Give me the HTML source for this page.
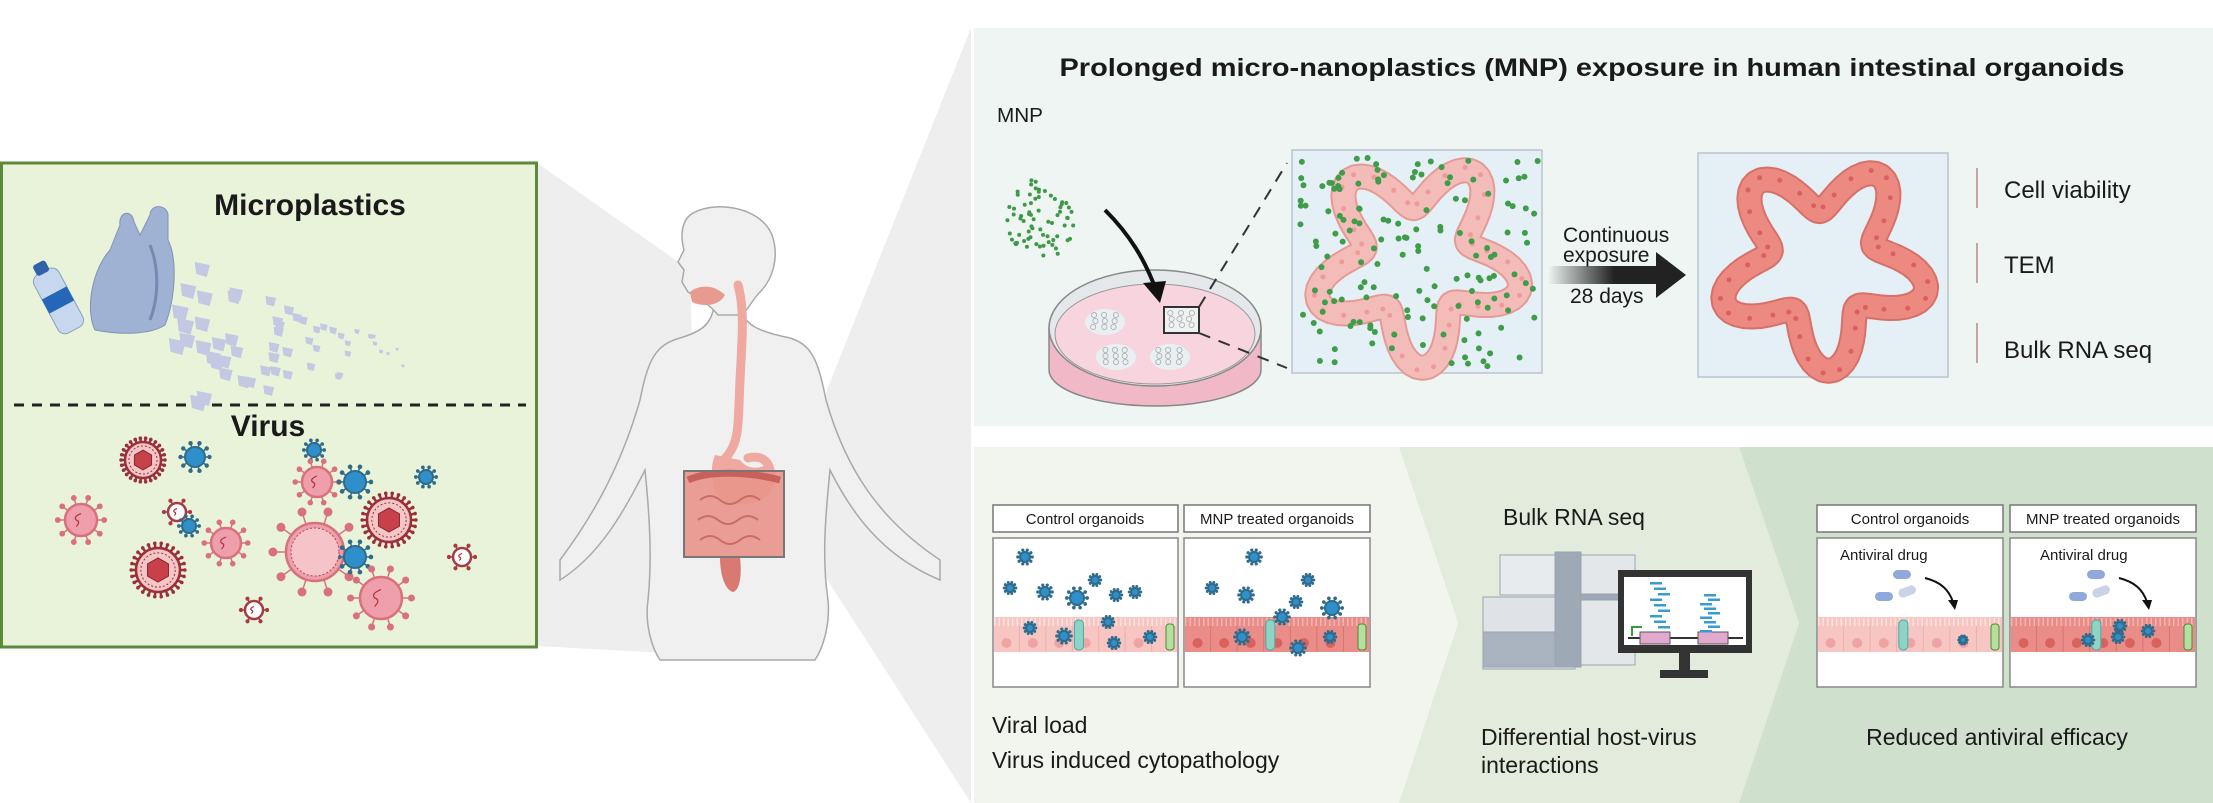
<!DOCTYPE html>
<html><head><meta charset="utf-8">
<style>
html,body{margin:0;padding:0;background:#fff;width:2213px;height:803px;overflow:hidden}
svg{display:block}
text{font-family:"Liberation Sans",sans-serif;fill:#1a1a1a}
</style></head>
<body>
<svg id="s" width="2213" height="803" viewBox="0 0 2213 803" xmlns="http://www.w3.org/2000/svg">
<defs>
<linearGradient id="ag" x1="0" x2="1" y1="0" y2="0">
<stop offset="0" stop-color="#222" stop-opacity="0"/><stop offset="0.6" stop-color="#222"/><stop offset="1" stop-color="#222"/>
</linearGradient>
</defs>
<polygon points="537,163 690,270 700,655 537,646" fill="#eeeeee"/>
<polygon points="971,28 827,390 805,545 971,803" fill="#eeeeee"/>
<rect x="974" y="28" width="1239" height="398" fill="#eef5f2"/>
<polygon points="974,447 1399,447 1458,623 1399,803 974,803" fill="#f1f5ee"/>
<polygon points="1399,447 1739,447 1799,623 1739,803 1399,803 1458,623" fill="#e3ecdc"/>
<polygon points="1739,447 2213,447 2213,803 1739,803 1799,623" fill="#cfe0cd"/>
<g id="dyn"></g>
<rect x="1.5" y="163" width="535" height="484" fill="#e9f3d9" stroke="#5b8a3b" stroke-width="3"/>
<line x1="14" y1="405" x2="526" y2="405" stroke="#222" stroke-width="3" stroke-dasharray="10,8"/>
<text x="310" y="215" font-size="30" font-weight="bold" text-anchor="middle">Microplastics</text>
<text x="268" y="436" font-size="30" font-weight="bold" text-anchor="middle">Virus</text>
<g id="left"></g>
<g id="body" fill="#f0f0f0" stroke="#a9a9a9" stroke-width="1.5">
<path d="M560,560 C590,520 620,470 640,400 C648,360 655,345 680,338 C700,332 712,325 714,305 L740,305 C742,325 760,332 790,338 C812,345 818,360 826,400 C846,470 880,520 940,560 L940,580 C880,555 850,510 830,470 C825,520 822,560 828,600 C830,620 825,645 815,660 L660,660 C650,645 645,620 648,600 C652,560 650,520 645,470 C625,510 600,555 560,580 Z"/>
<path d="M690,215 C710,200 760,205 772,235 C780,258 772,280 760,292 C752,300 748,310 742,315 L718,315 C710,305 700,298 688,292 L682,282 L684,270 L678,262 L684,250 C680,235 682,222 690,215 Z"/>
</g>
<g id="gi">
<path d="M738,285 C745,310 742,340 740,380 C738,420 740,440 728,455 C715,470 712,490 730,498 C755,505 775,490 770,470 C768,460 760,455 748,458" fill="none" stroke="#f0a9a0" stroke-width="9" stroke-linecap="round"/>
<path d="M715,455 C705,480 720,500 745,500 C770,498 780,480 770,462 C760,470 748,470 740,460 Z" fill="#f0a9a0"/>
<path d="M690,292 C700,284 715,285 725,295 C720,305 705,308 692,302 Z" fill="#e89a90"/>
<rect x="684" y="471" width="100" height="86" fill="#e8938a" opacity="0.9"/>
<path d="M688,480 C710,470 750,472 780,480" stroke="#c8615c" stroke-width="7" fill="none"/>
<path d="M700,500 q10,-8 20,0 t20,0 t20,0 M698,520 q10,-8 20,0 t20,0 t20,0 M700,540 q10,-8 20,0 t20,0 t20,0" stroke="#c96c66" stroke-width="2" fill="none"/>
<path d="M720,557 C720,575 725,590 733,592 C740,590 742,575 740,557 Z" fill="#d87a72"/>
<rect x="684" y="471" width="100" height="86" fill="none" stroke="#777" stroke-width="2"/>
</g>
<text x="1592" y="76" font-size="25" font-weight="bold" text-anchor="middle" textLength="1065" lengthAdjust="spacingAndGlyphs">Prolonged micro-nanoplastics (MNP) exposure in human intestinal organoids</text>
<text x="997" y="122" font-size="20" textLength="46" lengthAdjust="spacingAndGlyphs">MNP</text>
<path d="M1049,328 L1049,370 A106,36 0 0 0 1261,370 L1261,328 Z" fill="#f1b9c8" stroke="#888" stroke-width="1.5"/>
<ellipse cx="1155" cy="328" rx="106" ry="58" fill="#e4e8ea" stroke="#888" stroke-width="1.5"/>
<ellipse cx="1155" cy="334" rx="100" ry="50" fill="#f7d4de" stroke="#999" stroke-width="1"/>
<ellipse cx="1105" cy="322" rx="20" ry="13" fill="#e9f0f3"/>
<ellipse cx="1116" cy="357" rx="20" ry="13" fill="#e9f0f3"/>
<ellipse cx="1170" cy="357" rx="20" ry="13" fill="#e9f0f3"/>
<rect x="1164" y="307" width="35" height="26" fill="#eef2f3" stroke="#333" stroke-width="2"/>
<path d="M1105,210 C1130,235 1145,260 1156,290" fill="none" stroke="#111" stroke-width="4"/>
<polygon points="1143,283 1166,281 1160,303" fill="#111"/>
<line x1="1199" y1="307" x2="1287" y2="163" stroke="#333" stroke-width="2" stroke-dasharray="12,9"/>
<line x1="1199" y1="333" x2="1287" y2="368" stroke="#333" stroke-width="2" stroke-dasharray="12,9"/>
<rect x="1292" y="150" width="250" height="223" fill="#e5eff6" stroke="#b9c4cc" stroke-width="1.5"/>
<rect x="1698" y="153" width="250" height="224" fill="#e5eff6" stroke="#b9c4cc" stroke-width="1.5"/>
<rect x="1548" y="266" width="110" height="18" fill="url(#ag)"/>
<polygon points="1656,252 1686,275 1656,298" fill="#222"/>
<text x="1563" y="242" font-size="21">Continuous</text>
<text x="1563" y="262" font-size="21">exposure</text>
<text x="1570" y="303" font-size="21">28 days</text>
<rect x="1976" y="168" width="2" height="40" fill="#c9a3a3"/>
<rect x="1976" y="243" width="2" height="40" fill="#c9a3a3"/>
<rect x="1976" y="323" width="2" height="40" fill="#c9a3a3"/>
<text x="2004" y="198" font-size="24">Cell viability</text>
<text x="2004" y="273" font-size="24">TEM</text>
<text x="2004" y="358" font-size="24">Bulk RNA seq</text>
<g id="top"></g>
<g font-size="14">
<rect x="993" y="505" width="185" height="27" fill="#fff" stroke="#777" stroke-width="1.5"/>
<rect x="1184" y="505" width="186" height="27" fill="#fff" stroke="#777" stroke-width="1.5"/>
<rect x="1817" y="505" width="186" height="27" fill="#fff" stroke="#777" stroke-width="1.5"/>
<rect x="2010" y="505" width="186" height="27" fill="#fff" stroke="#777" stroke-width="1.5"/>
<text x="1085" y="524" font-size="15" text-anchor="middle">Control organoids</text>
<text x="1277" y="524" font-size="15" text-anchor="middle">MNP treated organoids</text>
<text x="1910" y="524" font-size="15" text-anchor="middle">Control organoids</text>
<text x="2103" y="524" font-size="15" text-anchor="middle">MNP treated organoids</text>
</g>
<g id="panels"></g>
<text x="1840" y="560" font-size="15">Antiviral drug</text>
<text x="2040" y="560" font-size="15">Antiviral drug</text>
<text x="992" y="733" font-size="23">Viral load</text>
<text x="992" y="768" font-size="23">Virus induced cytopathology</text>
<text x="1503" y="525" font-size="23">Bulk RNA seq</text>
<text x="1481" y="745" font-size="23">Differential host-virus</text>
<text x="1481" y="773" font-size="23">interactions</text>
<text x="1997" y="745" font-size="23" text-anchor="middle">Reduced antiviral efficacy</text>
<g stroke="#9aa3ad" stroke-width="1">
<rect x="1500" y="555" width="55" height="40" fill="#e8ebee"/>
<rect x="1483" y="597" width="92" height="72" fill="#dfe3e7"/>
<rect x="1483" y="632" width="80" height="35" fill="#a9b3bf"/>
<rect x="1580" y="555" width="55" height="110" fill="#e4e7ea"/>
<rect x="1555" y="552" width="26" height="115" fill="#9ea9b6"/>
<rect x="1580" y="594" width="40" height="6" fill="#9ea9b6"/>
</g>
<rect x="1618" y="570" width="134" height="83" fill="#333"/>
<rect x="1624" y="577" width="122" height="68" fill="#fff"/>
<rect x="1679" y="653" width="11" height="18" fill="#333"/>
<rect x="1660" y="670" width="48" height="8" fill="#333"/>
<line x1="1628" y1="638" x2="1743" y2="638" stroke="#333" stroke-width="2"/>
<rect x="1640" y="632" width="30" height="12" fill="#e2a9cf" stroke="#555"/>
<rect x="1698" y="632" width="30" height="12" fill="#e2a9cf" stroke="#555"/>
<path d="M1632,636 L1632,627 L1642,627" stroke="#3a9a3a" stroke-width="2" fill="none"/>
<g id="seq"></g>
</svg>
<script>
function add(id,html){document.getElementById(id).insertAdjacentHTML('beforeend',html);}
let seed=7;function rnd(){seed=(seed*9301+49297)%233280;return seed/233280;}
function virus(g,x,y,r,type){
 let s='';let col,fill,n;
 if(type=='blue'){col='#2f6b8a';fill='#2e8fca';n=10;}
 else if(type=='red'){col='#9b2f3a';fill='#f4c6c6';n=26;}
 else if(type=='pink'){col='#d9707e';fill='#ef9fac';n=10;}
 else {col='#a83a44';fill='#fff';n=6;}
 for(let i=0;i<n;i++){let a=i/n*Math.PI*2;let l=type=='red'?r*0.22:r*0.45;
  let x1=x+Math.cos(a)*r,y1=y+Math.sin(a)*r,x2=x+Math.cos(a)*(r+l),y2=y+Math.sin(a)*(r+l);
  s+=`<line x1="${x1}" y1="${y1}" x2="${x2}" y2="${y2}" stroke="${col}" stroke-width="${type=='red'?2.5:1.5}"/><circle cx="${x2}" cy="${y2}" r="${type=='red'?1.8:r*0.12+1}" fill="${col}"/>`;}
 s+=`<circle cx="${x}" cy="${y}" r="${r}" fill="${fill}" stroke="${col}" stroke-width="${type=='blue'?2:2.5}"/>`;
 if(type=='red'){let h='';for(let i=0;i<6;i++){let a=i/6*Math.PI*2+Math.PI/6;h+=(x+Math.cos(a)*r*0.55)+','+(y+Math.sin(a)*r*0.55)+' ';}
  s+=`<circle cx="${x}" cy="${y}" r="${r*0.78}" fill="none" stroke="${col}" stroke-width="1" stroke-dasharray="2,2"/><polygon points="${h}" fill="#c8414a" stroke="#8a2630"/>`;}
 if(type=='pink'||type=='white'){s+=`<path d="M${x-r*0.3},${y+r*0.4} q${r*0.3},-${r*0.3} 0,-${r*0.4} q-${r*0.2},-${r*0.2} ${r*0.3},-${r*0.4}" stroke="#b23040" fill="none" stroke-width="1.2"/>`;}
 add(g,s);
}
[[143,460,18,'red'],[195,457,10,'blue'],[314,450,7,'blue'],[317,482,15,'pink'],[355,482,11,'blue'],[426,477,7,'blue'],
[81,520,16,'pink'],[177,512,9,'white'],[189,526,7,'blue'],[389,520,22,'red'],[226,543,15,'pink'],[315,552,29,'pink'],
[355,557,11,'blue'],[158,570,22,'red'],[381,598,21,'pink'],[462,557,9,'white'],[254,610,9,'white']].forEach(v=>virus('left',...v));
add('left','<circle cx="315" cy="552" r="24" fill="#f6c3c8" stroke="#b24550" stroke-dasharray="2,2"/>');
add('left',`<g transform="rotate(-28 58 300)"><rect x="44" y="268" width="28" height="66" rx="8" fill="#c7d7ee" stroke="#8aa0c0"/><rect x="51" y="258" width="14" height="12" rx="3" fill="#2f62a8"/><rect x="44" y="292" width="28" height="16" fill="#2566b8"/></g>
<path d="M120,225 C118,212 132,208 134,222 L140,235 L150,215 C150,205 165,203 168,214 L168,240 C178,260 175,300 165,325 C150,335 120,335 95,330 C85,310 92,270 110,250 Z" fill="#9fb2d3" stroke="#7f93b8"/>
<path d="M150,245 C160,270 158,300 150,320" stroke="#7689b0" stroke-width="3" fill="none"/>`);
for(let i=0;i<55;i++){let t=rnd();let x=170+t*230+(rnd()-0.5)*20;let spread=80*(1-t)+15;let y=325+(rnd()-0.5)*spread*1.6+t*30;let sz=14*(1-t)+3;
 add('left',`<polygon points="${x},${y} ${x+sz},${y+sz*0.2} ${x+sz*0.8},${y+sz} ${x+sz*0.1},${y+sz*0.8}" fill="#c3c9e3"/>`);}
for(let i=0;i<70;i++){let a=rnd()*Math.PI*2,d=Math.sqrt(rnd())*38;add('top',`<circle cx="${1040+Math.cos(a)*d*0.9}" cy="${220+Math.sin(a)*d*1.1}" r="2" fill="#3f9a48"/>`);}
[[1105,322],[1116,357],[1170,357],[1181,320]].forEach(p=>{for(let i=0;i<9;i++)add('top',`<circle cx="${p[0]-12+(i%3)*10+rnd()*3}" cy="${p[1]-7+Math.floor(i/3)*6}" r="2.6" fill="none" stroke="#aaa" stroke-width="0.8"/>`);});
function org(cx,cy,R,A,rot,fill,stroke,nuc){
 let d='';for(let i=0;i<=120;i++){let t=i/120*Math.PI*2;let r=R+A*Math.sin(5*t+rot);d+=(i?'L':'M')+(cx+Math.cos(t)*r).toFixed(1)+','+(cy+Math.sin(t)*r).toFixed(1);}
 add('top',`<path d="${d}Z" fill="none" stroke="${stroke}" stroke-width="26" stroke-linejoin="round"/><path d="${d}Z" fill="none" stroke="${fill}" stroke-width="22" stroke-linejoin="round"/>`);
 for(let i=0;i<40;i++){let t=i/40*Math.PI*2;let r=R+A*Math.sin(5*t+rot);add('top',`<circle cx="${cx+Math.cos(t)*(r+3)}" cy="${cy+Math.sin(t)*(r+3)}" r="2.5" fill="${nuc}"/>`);}
}
org(1417,262,80,26,0.3,'#f4bcb8','#e59a96','#ee9a9a');
for(let i=0;i<150;i++){let x=1300+rnd()*238,y=158+rnd()*210;add('top',`<circle cx="${x}" cy="${y}" r="3" fill="#3f9d4a"/>`);}
org(1823,265,80,26,0.3,'#ec8a82','#d77068','#d9605e');
function panel(x,w,dark){
 let s=`<rect x="${x}" y="538" width="${w}" height="149" fill="#fff" stroke="#888" stroke-width="1.5"/>`;
 s+=`<rect x="${x+1}" y="617" width="${w-2}" height="35" fill="${dark?'#ea8d88':'#f7c6c3'}"/>`;
 s+=`<line x1="${x+1}" y1="622" x2="${x+w-1}" y2="622" stroke="${dark?'#f3b3ae':'#fbe0de'}" stroke-width="8" stroke-dasharray="1.5,3"/>`;
 for(let i=1;i<7;i++)s+=`<line x1="${x+i*w/7}" y1="626" x2="${x+i*w/7}" y2="652" stroke="${dark?'#d57671':'#ebb0ac'}"/><circle cx="${x+i*w/7-13}" cy="643" r="5" fill="${dark?'#d9625e':'#f0a3a3'}"/>`;
 s+=`<rect x="${x+w*0.44}" y="620" width="9" height="30" rx="4" fill="#8fd3c4" stroke="#4aa"/><rect x="${x+w-12}" y="624" width="8" height="26" rx="3" fill="#b6df9e" stroke="#4a8a3a"/>`;
 add('panels',s);
}
panel(993,185,0);panel(1184,186,1);panel(1817,186,0);panel(2010,186,1);
[[1025,557,5],[1010,588,4],[1045,592,5],[1077,598,7],[1095,580,4],[1116,595,4],[1135,592,4],[1108,622,4],[1030,628,4],[1064,636,5],[1114,643,4],[1150,637,4],
 [1254,557,5],[1212,588,4],[1246,595,5],[1308,580,4],[1296,602,4],[1332,608,7],[1282,617,5],[1242,637,5],[1298,648,5],[1330,637,4]].forEach(v=>virus('panels',v[0],v[1],v[2],'blue'));
[[1963,640,3],[2120,626,4],[2088,640,4],[2118,637,4],[2148,631,4]].forEach(v=>virus('panels',v[0],v[1],v[2],'blue'));
function pills(x){add('panels',`<rect x="${x}" y="570" width="18" height="9" rx="4.5" fill="#8fa9dc"/><rect x="${x-18}" y="592" width="18" height="9" rx="4.5" fill="#8fa9dc"/><rect x="${x+5}" y="587" width="18" height="9" rx="4.5" fill="#c9d2e6" transform="rotate(-20 ${x+14} 591)"/>
<path d="M${x+32},578 C${x+48},582 ${x+56},590 ${x+60},602" stroke="#111" stroke-width="2" fill="none"/><polygon points="${x+55},600 ${x+65},600 ${x+62},610" fill="#111"/>`);}
pills(1893);pills(2087);
for(let i=0;i<9;i++){add('seq',`<rect x="${1650+(i%3)*4}" y="${582+i*5.5}" width="12" height="2.5" fill="#3a9bd0"/><rect x="${1700+((i+1)%3)*4}" y="${594+i*4.5}" width="12" height="2.5" fill="#3a9bd0"/>`);}
</script>
</body></html>
